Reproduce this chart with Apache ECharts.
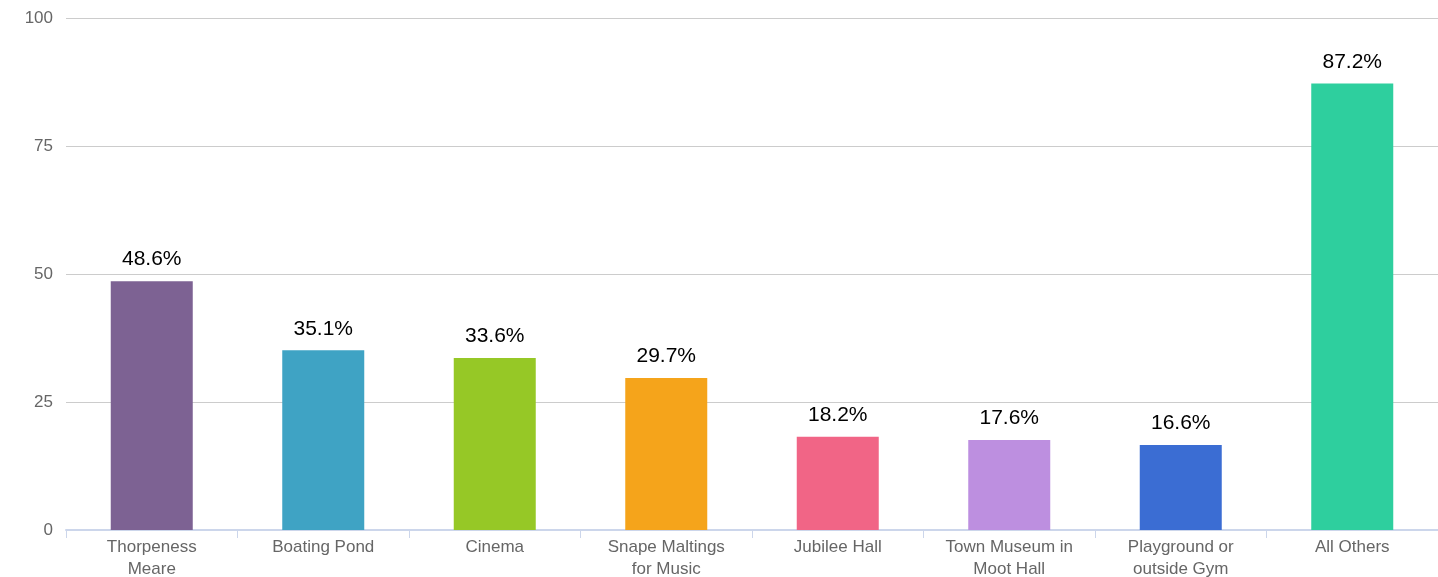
<!DOCTYPE html>
<html>
<head>
<meta charset="utf-8">
<script src="https://cdn.jsdelivr.net/npm/echarts@6/dist/echarts.min.js"></script>
<style>
  html, body { margin: 0; padding: 0; background: #fff; }
  #chart { width: 1438px; height: 577px; }
</style>
</head>
<body>
<div id="chart"></div>
<script>
var categories = [
  "Thorpeness\nMeare",
  "Boating Pond",
  "Cinema",
  "Snape Maltings\nfor Music",
  "Jubilee Hall",
  "Town Museum in\nMoot Hall",
  "Playground or\noutside Gym",
  "All Others"
];
var values = [48.6, 35.1, 33.6, 29.7, 18.2, 17.6, 16.6, 87.2];
var colors = ["#7d6293", "#3fa3c4", "#96c826", "#f5a41b", "#f16586", "#bd8fe0", "#3b6dd3", "#2ecf9e"];
var yTicks = [0, 25, 50, 75, 100];

var chart = echarts.init(document.getElementById("chart"));
var option = {
  animation: false,
  grid: {
    left: 66, right: 0, top: 18, bottom: 47,
    containLabel: false,
    outerBoundsMode: "none"
  },
  xAxis: {
    type: "category",
    data: categories,
    axisLine: { lineStyle: { color: "#ccd6eb", width: 2 } },
    axisTick: { show: true, length: 8, lineStyle: { color: "#ccd6eb", width: 1 } },
    axisLabel: {
      color: "#666",
      fontSize: 17,
      fontFamily: "Liberation Sans",
      lineHeight: 22,
      margin: 6,
      interval: 0
    }
  },
  yAxis: {
    type: "value",
    min: yTicks[0],
    max: yTicks[yTicks.length - 1],
    interval: 25,
    axisLine: { show: false },
    axisTick: { show: false },
    splitLine: { lineStyle: { color: "#ccc", width: 1 } },
    axisLabel: {
      color: "#666",
      fontSize: 17,
      fontFamily: "Liberation Sans",
      margin: 13,
      padding: [6, 0, 0, 0]
    }
  },
  series: [{
    type: "bar",
    barWidth: 82,
    data: values.map(function (v, i) {
      return { value: v, itemStyle: { color: colors[i] } };
    }),
    label: {
      show: true,
      position: "top",
      distance: 11,
      color: "#000",
      fontSize: 21,
      fontFamily: "Liberation Sans",
      formatter: function (p) { return p.value.toFixed(1) + "%"; }
    }
  }]
};
chart.setOption(option);
</script>
</body>
</html>
